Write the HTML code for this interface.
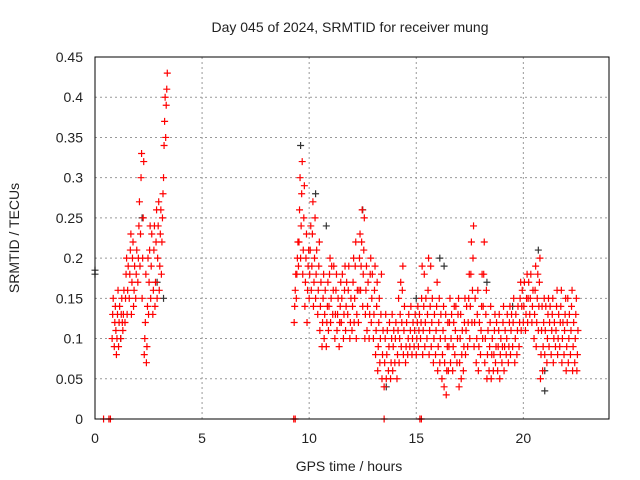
<!DOCTYPE html>
<html><head><meta charset="utf-8"><style>
html,body{margin:0;padding:0;background:#fff;}
svg{display:block;font-family:"Liberation Sans",sans-serif;}
</style></head><body>
<svg id="chart" width="640" height="480" viewBox="0 0 640 480">
<rect width="640" height="480" fill="#fff"/>
<text x="350" y="32" text-anchor="middle" font-size="14" fill="#222">Day 045 of 2024, SRMTID for receiver mung</text>
<text x="349" y="471" text-anchor="middle" font-size="14" fill="#222">GPS time / hours</text>
<text transform="translate(19,238) rotate(-90)" text-anchor="middle" font-size="14" fill="#222">SRMTID / TECUs</text>
<g id="grid"></g><g id="ticks"></g><g id="marks"></g>
<rect x="95" y="57" width="514" height="362" fill="none" stroke="#000" stroke-width="1"/>
</svg>
<script>
const xTicks=[0,5,10,15,20];
const yTicks=[0,0.05,0.1,0.15,0.2,0.25,0.3,0.35,0.4,0.45];
const yTickLabels=["0","0.05","0.1","0.15","0.2","0.25","0.3","0.35","0.4","0.45"];
const redSeries=[
[0.8,[.10,.13,.15]],[0.9,[.09,.12,.14,.11]],[1.0,[.08,.10,.13,.16]],[1.1,[.09,.12,.14]],[1.2,[.10,.13,.15,.12]],
[1.3,[.11,.13,.16]],[1.4,[.12,.15,.18,.20]],[1.5,[.13,.16,.19]],[1.6,[.15,.18,.21,.23]],[1.7,[.13,.17,.20,.22]],
[1.8,[.14,.16,.19]],[1.9,[.15,.18,.21]],[2.0,[.17,.20,.24,.27]],[2.1,[.19,.23,.30,.33]],[2.2,[.15,.20,.25,.32]],
[2.3,[.08,.10,.12,.18]],[2.4,[.07,.09,.14,.20]],[2.5,[.13,.17,.21,.24]],[2.6,[.15,.19,.23]],[2.7,[.13,.16,.21,.24]],
[2.8,[.14,.17,.22,.26]],[2.9,[.15,.20,.24,.27]],[3.0,[.16,.19,.23,.26]],[3.1,[.18,.22,.25,.28]],[3.2,[.30,.34,.37,.40]],[3.3,[.35,.39,.41,.43]],
[9.3,[.12,.14,.16,.18]],[9.4,[.15,.18,.20,.22]],[9.5,[.19,.22,.26,.30]],[9.6,[.20,.24,.28,.32]],[9.7,[.18,.21,.25,.29]],
[9.8,[.14,.17,.20,.23]],[9.9,[.12,.16,.19,.21]],[10.0,[.15,.18,.21,.24]],[10.1,[.16,.19,.23,.27]],[10.2,[.14,.17,.20,.25]],
[10.3,[.15,.18,.21]],[10.4,[.13,.16,.19,.22]],[10.5,[.11,.14,.17]],[10.6,[.09,.12,.15,.18]],[10.7,[.10,.13,.16]],
[10.8,[.09,.12,.14,.17]],[10.9,[.11,.14,.18,.20]],[11.0,[.12,.15,.19]],[11.1,[.13,.16,.19]],[11.2,[.10,.13,.16,.18]],
[11.3,[.11,.13,.15]],[11.4,[.09,.12,.14,.17]],[11.5,[.12,.15,.18]],[11.6,[.10,.13,.16,.19]],[11.7,[.11,.14,.17]],
[11.8,[.13,.16,.19]],[11.9,[.10,.12,.15]],[12.0,[.11,.14,.17,.20]],[12.1,[.12,.15,.19,.22]],[12.2,[.10,.13,.16]],
[12.3,[.12,.16,.20,.23]],[12.4,[.16,.19,.22,.26]],[12.5,[.14,.18,.21,.25]],[12.6,[.10,.13,.16,.19]],[12.7,[.11,.14,.17]],
[12.8,[.10,.13,.18,.20]],[12.9,[.12,.15,.18]],[13.0,[.10,.13,.16,.19]],[13.1,[.08,.11,.14,.17]],[13.2,[.06,.09,.12,.15]],
[13.3,[.07,.10,.13,.18]],[13.4,[.05,.08,.11]],[13.5,[.04,.07,.10,.13]],[13.6,[.05,.08,.11]],[13.7,[.06,.09,.12]],
[13.8,[.05,.07,.10,.13]],[13.9,[.06,.09,.11]],[14.0,[.07,.10,.12]],[14.1,[.05,.08,.11,.15]],[14.2,[.07,.10,.13,.17]],
[14.3,[.09,.12,.16,.19]],[14.4,[.08,.11,.14]],[14.5,[.07,.09,.12]],[14.6,[.08,.10,.13]],[14.7,[.09,.11,.14]],
[14.8,[.08,.10,.12]],[14.9,[.09,.11,.13]],[15.0,[.08,.10,.12,.14]],[15.1,[.09,.11,.13]],[15.2,[.10,.12,.15,.19]],
[15.3,[.08,.11,.14,.18]],[15.4,[.09,.12,.15]],[15.5,[.10,.13,.16,.20]],[15.6,[.08,.11,.14,.19]],[15.7,[.09,.12,.15]],
[15.8,[.07,.10,.13]],[15.9,[.08,.11,.14,.17]],[16.0,[.06,.09,.12,.15]],[16.1,[.07,.10,.13]],[16.2,[.05,.08,.11,.14]],
[16.3,[.04,.07,.10,.13]],[16.4,[.03,.06,.09,.12]],[16.5,[.06,.09,.12,.15]],[16.6,[.07,.10,.13]],[16.7,[.06,.09,.12,.14]],
[16.8,[.08,.11,.14]],[16.9,[.07,.10,.13,.15]],[17.0,[.04,.07,.10,.13]],[17.1,[.05,.08,.11]],[17.2,[.06,.09,.12,.15]],
[17.3,[.08,.11,.14]],[17.4,[.09,.12,.15,.18]],[17.5,[.10,.14,.18,.22]],[17.6,[.12,.16,.20,.24]],[17.7,[.09,.12,.15]],
[17.8,[.07,.10,.13,.16]],[17.9,[.06,.09,.12]],[18.0,[.08,.11,.14,.18]],[18.1,[.10,.14,.18,.22]],[18.2,[.07,.10,.13,.16]],
[18.3,[.05,.08,.11]],[18.4,[.06,.09,.12,.14]],[18.5,[.05,.08,.10]],[18.6,[.06,.08,.11,.13]],[18.7,[.07,.09,.12]],
[18.8,[.06,.09,.11,.13]],[18.9,[.05,.08,.10]],[19.0,[.07,.09,.12,.14]],[19.1,[.06,.09,.11]],[19.2,[.08,.10,.13]],
[19.3,[.07,.09,.12,.14]],[19.4,[.08,.11,.13]],[19.5,[.09,.12,.15]],[19.6,[.07,.10,.13]],[19.7,[.08,.11,.14]],
[19.8,[.09,.12,.15,.17]],[19.9,[.11,.14,.16]],[20.0,[.12,.14,.17]],[20.1,[.11,.13,.15,.18]],[20.2,[.12,.15,.17]],
[20.3,[.13,.15,.18]],[20.4,[.12,.14,.16]],[20.5,[.10,.13,.16,.19]],[20.6,[.09,.12,.15,.18]],[20.7,[.11,.14,.17,.20]],
[20.8,[.05,.08,.11,.14]],[20.9,[.06,.09,.12,.15]],[21.0,[.08,.11,.14]],[21.1,[.07,.10,.13,.15]],[21.2,[.09,.12,.14]],
[21.3,[.08,.11,.13,.15]],[21.4,[.07,.10,.12]],[21.5,[.09,.11,.14,.16]],[21.6,[.08,.10,.13]],[21.7,[.09,.12,.14,.16]],
[21.8,[.07,.10,.12]],[21.9,[.08,.11,.13,.15]],[22.0,[.06,.09,.12,.15]],[22.1,[.07,.10,.13]],[22.2,[.08,.11,.14,.16]],
[22.3,[.06,.09,.12]],[22.4,[.07,.10,.13,.15]],[22.5,[.06,.08,.11]]
];
const redZeroTimes=[0.4,0.65,0.72,9.28,9.35,13.5,15.17,15.24];
const blackTimes=[0.0,0.0,2.2,2.9,3.2,9.6,10.3,10.8,12.5,13.6,16.1,16.3,18.3,19.5,20.7,21.0,21.0,15.0,1.2];
const blackValues=[.18,.185,.25,.17,.15,.34,.28,.24,.26,.04,.2,.19,.17,.14,.21,.035,.06,.15,.1];

const X0=95,X1=609,Y0=419,Y1=57,XMAX=24,YMAX=0.45;
function xs(t){return X0+(X1-X0)*t/XMAX;}
function ys(v){return Y0-(Y0-Y1)*v/YMAX;}
const NS="http://www.w3.org/2000/svg";
const grid=document.getElementById('grid'),ticks=document.getElementById('ticks'),marks=document.getElementById('marks');
function mk(tag,attrs,parent){const e=document.createElementNS(NS,tag);for(const k in attrs)e.setAttribute(k,attrs[k]);parent.appendChild(e);return e;}
xTicks.forEach(t=>{
  const x=xs(t);
  if(t>0){const g=mk('line',{x1:x,x2:x,y1:Y1,y2:Y0,stroke:'#999','stroke-dasharray':'2,3'},grid);
  
  }
  const l=mk('text',{x:x,y:Y0+24,'text-anchor':'middle','font-size':14,fill:'#222'},ticks);
  l.textContent=String(t);
  
  
});
yTicks.forEach((v,i)=>{
  const y=ys(v);
  if(i>0){const g=mk('line',{x1:X0,x2:X1,y1:y,y2:y,stroke:'#999','stroke-dasharray':'2,3'},grid);
  
  }
  const l=mk('text',{x:X0-12,y:y+5,'text-anchor':'end','font-size':14,fill:'#222'},ticks);
  l.textContent=yTickLabels[i];
  
  
});
function plus(t,v,color,name){
  const x=xs(t),y=ys(v);
  const p=mk('path',{d:`M${x-3.5},${y}H${x+3.5}M${x},${y-3.5}V${y+3.5}`,stroke:color,'stroke-width':1.2,fill:'none'},marks);
  
  
}
blackTimes.forEach((t,i)=>plus(t,blackValues[i],'#333','black-point'));
redSeries.forEach(([t,vals])=>vals.forEach((v,j)=>plus(t+j*0.025,v,'#f00','red-point')));
redZeroTimes.forEach(t=>plus(t,0,'#f00','zero-point'));
</script>
</body></html>
